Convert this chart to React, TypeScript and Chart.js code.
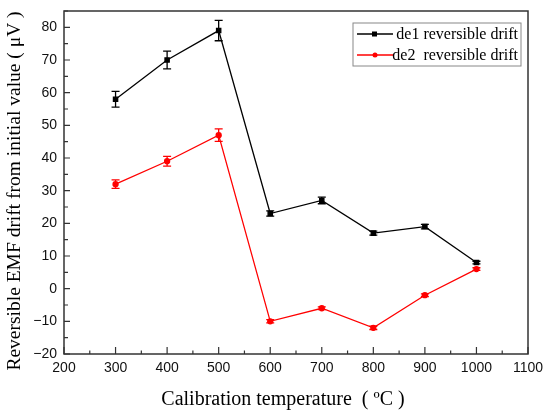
import { useEffect, useRef } from "react";
import { Chart, registerables } from "chart.js";

Chart.register(...registerables);

// Calibration temperatures (ºC)
const temps = [300, 400, 500, 600, 700, 800, 900, 1000];

// Reversible EMF drift (μV) and error bar half-widths
const de1 = [58, 70, 79, 23, 27, 17, 19, 8];
const de1Err = [2.4, 2.7, 3.1, 0.8, 1.0, 0.6, 0.7, 0.4];
const de2 = [32, 39, 47, -10, -6, -12, -2, 6];
const de2Err = [1.3, 1.5, 1.9, 0.5, 0.4, 0.5, 0.4, 0.4];

const seriesLabels = ["de1 reversible drift", "de2  reversible drift"];
const seriesColors = ["#000000", "#ff0000"];

const xTitle = "Calibration temperature\u00a0\u00a0( ºC )";
const yTitle = "Reversible EMF drift from initial value ( μV )";

const AXIS = "#333333";

const decorPlugin = {
  id: "decor",
  afterDatasetsDraw(chart: any) {
    const { ctx, chartArea, scales } = chart;
    const { left, right, top, bottom } = chartArea;
    const xs = scales.x;
    const ys = scales.y;

    ctx.save();
    // error bars
    const errs = [de1Err, de2Err];
    const vals = [de1, de2];
    errs.forEach((err, i) => {
      ctx.strokeStyle = seriesColors[i];
      ctx.lineWidth = 1.3;
      temps.forEach((t, j) => {
        const px = xs.getPixelForValue(t);
        const y1 = ys.getPixelForValue(vals[i][j] + err[j]);
        const y2 = ys.getPixelForValue(vals[i][j] - err[j]);
        ctx.beginPath();
        ctx.moveTo(px, y1);
        ctx.lineTo(px, y2);
        ctx.moveTo(px - 4, y1);
        ctx.lineTo(px + 4, y1);
        ctx.moveTo(px - 4, y2);
        ctx.lineTo(px + 4, y2);
        ctx.stroke();
      });
    });

    // frame
    ctx.strokeStyle = AXIS;
    ctx.lineWidth = 1.5;
    ctx.strokeRect(left, top, right - left, bottom - top);

    // inward ticks
    ctx.lineWidth = 1.2;
    ctx.beginPath();
    for (let v = 200; v <= 1100; v += 50) {
      const px = xs.getPixelForValue(v);
      const len = v % 100 === 0 ? 7 : 3.5;
      ctx.moveTo(px, bottom);
      ctx.lineTo(px, bottom - len);
    }
    for (let v = -20; v <= 85; v += 5) {
      const py = ys.getPixelForValue(v);
      const len = v % 10 === 0 ? 6 : 4;
      ctx.moveTo(left, py);
      ctx.lineTo(left + len, py);
    }
    ctx.stroke();

    // legend
    const bx = 353;
    const by = 23;
    ctx.strokeStyle = "#888888";
    ctx.lineWidth = 1;
    ctx.strokeRect(bx, by, 168, 43);
    ctx.font = "16px 'Liberation Serif', serif";
    ctx.textAlign = "right";
    ctx.textBaseline = "middle";
    [34, 55].forEach((ly, i) => {
      ctx.strokeStyle = seriesColors[i];
      ctx.fillStyle = seriesColors[i];
      ctx.lineWidth = 1.3;
      ctx.beginPath();
      ctx.moveTo(357, ly);
      ctx.lineTo(393, ly);
      ctx.stroke();
      ctx.beginPath();
      if (i === 0) ctx.rect(372, ly - 2.5, 5, 5);
      else ctx.arc(375, ly, 2.5, 0, Math.PI * 2);
      ctx.fill();
      ctx.fillStyle = "#000";
      ctx.fillText(seriesLabels[i], 518, ly + 1);
    });

    // axis titles
    ctx.fillStyle = "#000";
    ctx.textAlign = "center";
    ctx.font = "20px 'Liberation Serif', serif";
    ctx.fillText(xTitle, 283, 400);
    ctx.font = "19.5px 'Liberation Serif', serif";
    ctx.translate(15, 191);
    ctx.rotate(-Math.PI / 2);
    ctx.fillText(yTitle, 0, 0);
    ctx.restore();
  },
};

export default function App() {
  const chartRef = useRef<HTMLCanvasElement | null>(null);
  const chartInstance = useRef<Chart | null>(null);

  useEffect(() => {
    document.body.style.margin = "0";
    if (!chartRef.current) return;
    if (chartInstance.current) chartInstance.current.destroy();
    const ctx = chartRef.current.getContext("2d");
    if (!ctx) return;

    const tickFont = { family: "'Liberation Sans', Arial, sans-serif", size: 14 };

    chartInstance.current = new Chart(ctx, {
      type: "line",
      data: {
        datasets: [
          {
            label: seriesLabels[0],
            data: temps.map((t, i) => ({ x: t, y: de1[i] })),
            borderColor: seriesColors[0],
            backgroundColor: seriesColors[0],
            borderWidth: 1.3,
            pointStyle: "rect",
            pointRadius: 3,
            tension: 0,
          },
          {
            label: seriesLabels[1],
            data: temps.map((t, i) => ({ x: t, y: de2[i] })),
            borderColor: seriesColors[1],
            backgroundColor: seriesColors[1],
            borderWidth: 1.3,
            pointStyle: "circle",
            pointRadius: 2.5,
            tension: 0,
          },
        ],
      },
      options: {
        animation: false,
        responsive: true,
        maintainAspectRatio: false,
        layout: { padding: { top: 11, right: 22, left: 0, bottom: 0 } },
        plugins: {
          legend: { display: false },
          tooltip: { enabled: false },
        },
        scales: {
          x: {
            type: "linear",
            min: 200,
            max: 1100,
            grid: { display: false, drawTicks: false },
            border: { display: false },
            ticks: {
              stepSize: 100,
              padding: 6,
              color: "#111",
              font: tickFont,
              callback: (v: any) => String(v),
            },
            afterFit: (scale: any) => {
              scale.height = 62;
              scale.paddingLeft = 0;
              scale.paddingRight = 0;
            },
          },
          y: {
            min: -20,
            max: 85,
            grid: { display: false, drawTicks: false },
            border: { display: false },
            ticks: {
              stepSize: 10,
              padding: 7,
              color: "#111",
              font: tickFont,
              callback: (v: any) => (v > 80 ? "" : v < 0 ? "\u2212" + Math.abs(v) : String(v)),
            },
            afterFit: (scale: any) => {
              scale.width = 64;
              scale.paddingTop = 0;
              scale.paddingBottom = 0;
            },
          },
        },
      },
      plugins: [decorPlugin],
    });

    return () => {
      if (chartInstance.current) {
        chartInstance.current.destroy();
        chartInstance.current = null;
      }
    };
  }, []);

  return (
    <div style={{ width: 550, height: 416, position: "relative" }}>
      <canvas ref={chartRef} />
    </div>
  );
}
